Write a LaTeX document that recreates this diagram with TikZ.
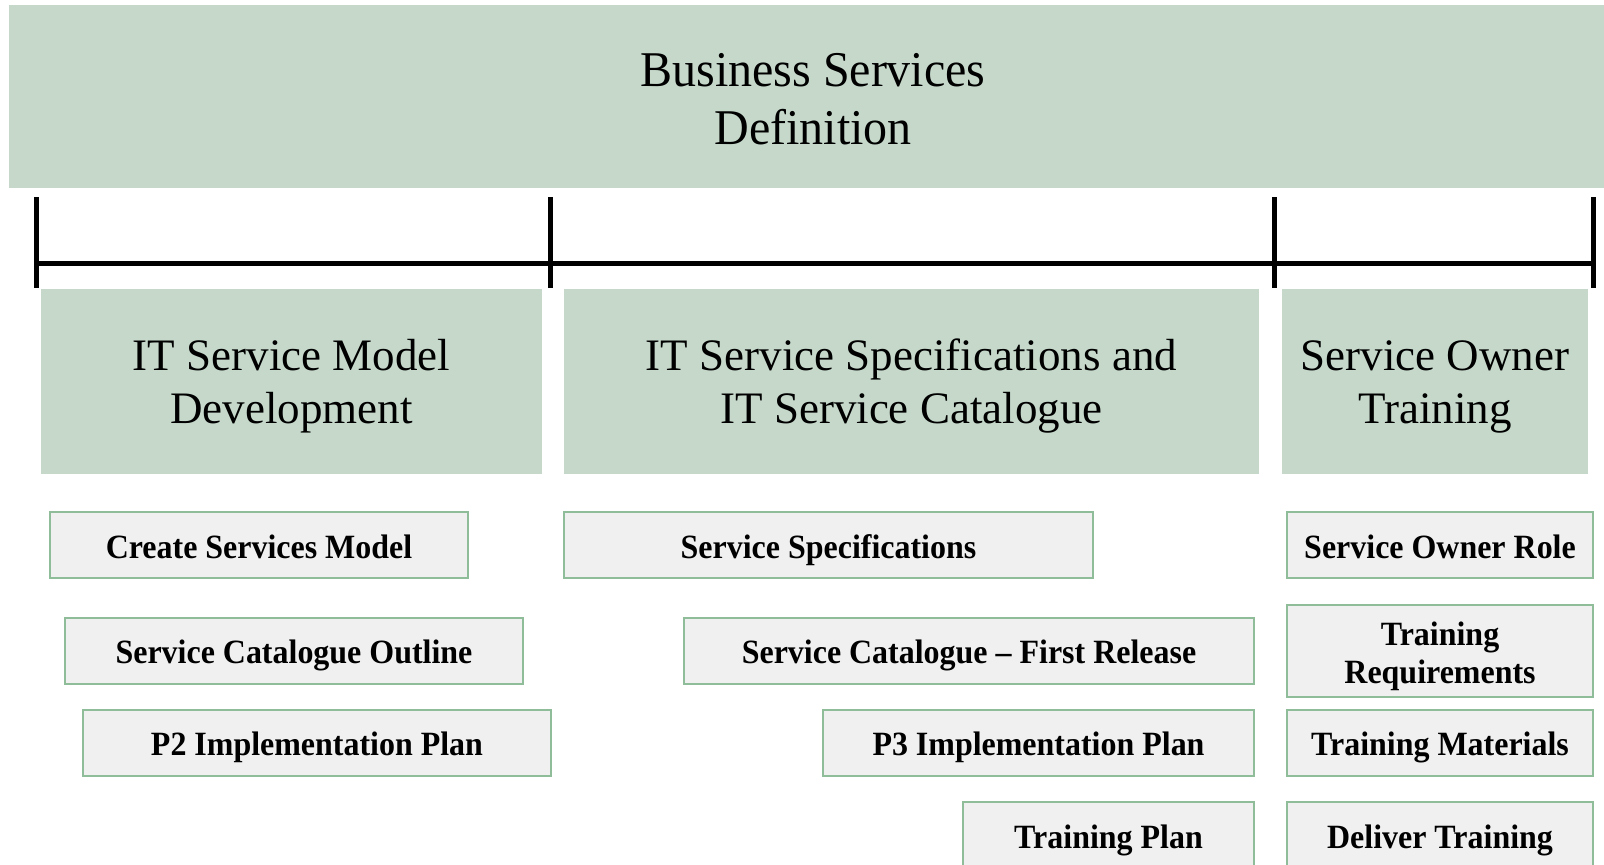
\documentclass[tikz,border=0pt]{standalone}
\usepackage{fontspec}
\setmainfont{Liberation Serif}
\newfontfamily\headfont{Liberation Serif}[FakeStretch=0.96]
\newfontfamily\taskfont{Liberation Serif}[FakeStretch=0.94,Ligatures=TeX]
\definecolor{sage}{RGB}{197,216,202}
\definecolor{taskfill}{RGB}{240,240,240}
\definecolor{taskline}{RGB}{143,188,153}

\begin{document}
\begin{tikzpicture}[x=0.5pt,y=-0.5pt,
    phase/.style={fill=sage,inner sep=0pt,align=center,minimum height=92.5pt,
      text height=42.2pt,text depth=0pt,font=\fontsize{22.5}{26.5}\selectfont},
    task/.style={fill=taskfill,draw=taskline,line width=1pt,inner sep=0pt,align=center,
      minimum height=33pt,text height=15.3pt,text depth=2pt,
      font=\taskfont\fontsize{17}{19}\selectfont\bfseries},
    bar/.style={line width=2.5pt}]
  \useasboundingbox (0,0) rectangle (1604,864);

  % top
  \node[fill=sage,inner sep=0pt,align=center,minimum width=804pt,minimum height=91.5pt,
    text height=47.5pt,text depth=0pt,
    font=\headfont\fontsize{25}{29}\selectfont] (bsd) at (813,96.5) {Business Services\\Definition};

  % bracket
  \foreach \x in {36,550,1274,1593}
    \draw[bar] (\x,197) -- (\x,288);
  \draw[bar] (36,263) -- (1593,263);

  % phases
  \node[phase,minimum width=250.5pt] (model) at (291.5,381.5) {IT Service Model\\Development};
  \node[phase,minimum width=347.5pt] (spec) at (911.5,381.5) {IT Service Specifications and\\IT Service Catalogue};
  \node[phase,minimum width=153pt] (owner) at (1435,381.5) {Service Owner\\Training};

  % tasks
  \node[task,minimum width=209pt] (csm) at (259,545) {Create Services Model};
  \node[task,minimum width=229pt] (sco) at (294,650.5) {Service Catalogue Outline};
  \node[task,minimum width=234pt] (p2) at (317,742.5) {P2 Implementation Plan};

  \node[task,minimum width=264.5pt] (ss) at (828.5,545) {Service Specifications};
  \node[task,minimum width=285pt] (scfr) at (969,650.5) {Service Catalogue -- First Release};
  \node[task,minimum width=215.5pt] (p3) at (1038.5,742.5) {P3 Implementation Plan};
  \node[task,minimum width=145.5pt] (tp) at (1108.5,835) {Training Plan};

  \node[task,minimum width=153pt] (sor) at (1440,545) {Service Owner Role};
  \node[task,minimum width=153pt,minimum height=46pt,text height=32.5pt,text depth=0pt]
    (treq) at (1440,650.5) {Training\\Requirements};
  \node[task,minimum width=153pt] (tmat) at (1440,742.5) {Training Materials};
  \node[task,minimum width=153pt] (dt) at (1440,835) {Deliver Training};
\end{tikzpicture}
\end{document}
